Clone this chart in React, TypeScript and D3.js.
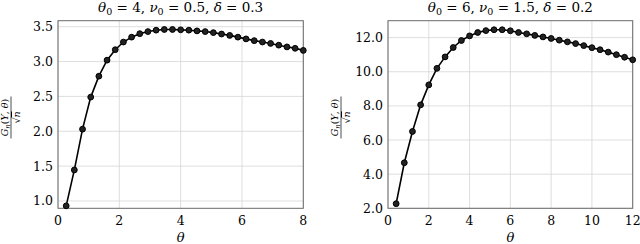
import * as d3 from 'd3'

// ─── Data ─────────────────────────────────────────────────────────────────────

const leftTheta = [0.267, 0.533, 0.8, 1.067, 1.333, 1.6, 1.867, 2.133, 2.4, 2.667, 2.933, 3.2, 3.467, 3.733, 4.0,
  4.267, 4.533, 4.8, 5.067, 5.333, 5.6, 5.867, 6.133, 6.4, 6.667, 6.933, 7.2, 7.467, 7.733, 8.0]
const leftG = [0.93, 1.445, 2.03, 2.49, 2.79, 3.02, 3.17, 3.28, 3.35, 3.4, 3.43, 3.45, 3.46, 3.46, 3.455,
  3.45, 3.44, 3.43, 3.415, 3.395, 3.375, 3.35, 3.325, 3.3, 3.28, 3.26, 3.235, 3.21, 3.19, 3.16]
const leftXTicks = [0, 2, 4, 6, 8]
const leftYTicks = [1.0, 1.5, 2.0, 2.5, 3.0, 3.5]

const rightTheta = [0.4, 0.8, 1.2, 1.6, 2.0, 2.4, 2.8, 3.2, 3.6, 4.0, 4.4, 4.8, 5.2, 5.6, 6.0,
  6.4, 6.8, 7.2, 7.6, 8.0, 8.4, 8.8, 9.2, 9.6, 10.0, 10.4, 10.8, 11.2, 11.6, 12.0]
const rightG = [2.27, 4.67, 6.5, 8.06, 9.23, 10.2, 10.87, 11.42, 11.83, 12.1, 12.3, 12.41, 12.46, 12.46, 12.4,
  12.3, 12.22, 12.13, 12.04, 11.95, 11.85, 11.75, 11.65, 11.53, 11.41, 11.29, 11.15, 11.0, 10.85, 10.7]
const rightXTicks = [0, 2, 4, 6, 8, 10, 12]
const rightYTicks = [2.0, 4.0, 6.0, 8.0, 10.0, 12.0]

// ─── Constants ────────────────────────────────────────────────────────────────

const W = 640
const H = 244
const TOP = 20.7
const BOTTOM = 208.3
const serif = { fontFamily: "'DejaVu Serif', 'Liberation Serif', serif" }
const ink = '#000'

interface PanelProps {
  x0: number; x1: number
  xDomain: [number, number]; yDomain: [number, number]
  xTicks: number[]; yTicks: number[]
  theta: number[]; g: number[]
  title: [string, string, string]
}

function Panel({ x0, x1, xDomain, yDomain, xTicks, yTicks, theta, g, title }: PanelProps) {
  const x = d3.scaleLinear().domain(xDomain).range([x0, x1])
  const y = d3.scaleLinear().domain(yDomain).range([BOTTOM, TOP])
  const pts = theta.map((t, i) => [t, g[i]] as [number, number])
  const line = d3.line<[number, number]>().x((d) => x(d[0])).y((d) => y(d[1]))
  const cx = (x0 + x1) / 2
  const labelX = x0 - 47

  return (
    <g style={serif}>
      {/* grid */}
      {xTicks.map((t) => (
        <line key={'gx' + t} x1={x(t)} x2={x(t)} y1={TOP} y2={BOTTOM} stroke="#d6d6d6" strokeWidth={0.8} />
      ))}
      {yTicks.map((t) => (
        <line key={'gy' + t} x1={x0} x2={x1} y1={y(t)} y2={y(t)} stroke="#d6d6d6" strokeWidth={0.8} />
      ))}
      <rect x={x0} y={TOP} width={x1 - x0} height={BOTTOM - TOP} fill="none" stroke="#6a6a6a" strokeWidth={1} />

      {/* ticks */}
      {xTicks.map((t) => (
        <text key={'tx' + t} x={x(t)} y={225} textAnchor="middle" fontSize={12.5} fill={ink}>{t}</text>
      ))}
      {yTicks.map((t) => (
        <text key={'ty' + t} x={x0 - 5} y={y(t) + 4.5} textAnchor="end" fontSize={12.5} fill={ink}>{t.toFixed(1)}</text>
      ))}

      {/* curve */}
      <path d={line(pts) ?? ''} fill="none" stroke="#000" strokeWidth={1.6} />
      {pts.map((d, i) => (
        <circle key={i} cx={x(d[0])} cy={y(d[1])} r={2.9} fill="#222" stroke="#000" strokeWidth={1} />
      ))}

      {/* title */}
      <text x={cx} y={12} textAnchor="middle" fontSize={13.5} fill={ink}>
        <tspan fontStyle="italic">θ</tspan><tspan fontSize={9.5} dy={3}>0</tspan>
        <tspan dy={-3}> = {title[0]}, </tspan>
        <tspan fontStyle="italic">ν</tspan><tspan fontSize={9.5} dy={3}>0</tspan>
        <tspan dy={-3}> = {title[1]}, </tspan>
        <tspan fontStyle="italic">δ</tspan><tspan> = {title[2]}</tspan>
      </text>

      {/* x label */}
      <text x={cx} y={242} textAnchor="middle" fontSize={13} fontStyle="italic" fill={ink}>θ</text>

      {/* y label */}
      <g transform={`translate(${labelX},${(TOP + BOTTOM) / 2 + 3}) rotate(-90)`}>
        <text x={0} y={-3} textAnchor="middle" fontSize={9.5} fill={ink}>
          <tspan fontStyle="italic">G</tspan><tspan fontStyle="italic" fontSize={7} dy={2}>n</tspan>
          <tspan dy={-2}>(</tspan><tspan fontStyle="italic">Y</tspan><tspan>, </tspan><tspan fontStyle="italic">θ</tspan><tspan>)</tspan>
        </text>
        <line x1={-21} x2={21} y1={0} y2={0} stroke={ink} strokeWidth={0.7} />
        <text x={0} y={9} textAnchor="middle" fontSize={9.5} fill={ink}>
          √<tspan fontStyle="italic" textDecoration="overline">n</tspan>
        </text>
      </g>
    </g>
  )
}

export default function App() {
  return (
    <div style={{ position: 'fixed', left: 0, top: 0, width: W, height: H, background: '#fff' }}>
      <svg width={W} height={H}>
        <Panel
          x0={58} x1={303.3} xDomain={[0, 8]} yDomain={[0.895, 3.586]}
          xTicks={leftXTicks} yTicks={leftYTicks} theta={leftTheta} g={leftG}
          title={['4', '0.5', '0.3']}
        />
        <Panel
          x0={388} x1={632.7} xDomain={[0, 12]} yDomain={[2.0, 12.99]}
          xTicks={rightXTicks} yTicks={rightYTicks} theta={rightTheta} g={rightG}
          title={['6', '1.5', '0.2']}
        />
      </svg>
    </div>
  )
}
